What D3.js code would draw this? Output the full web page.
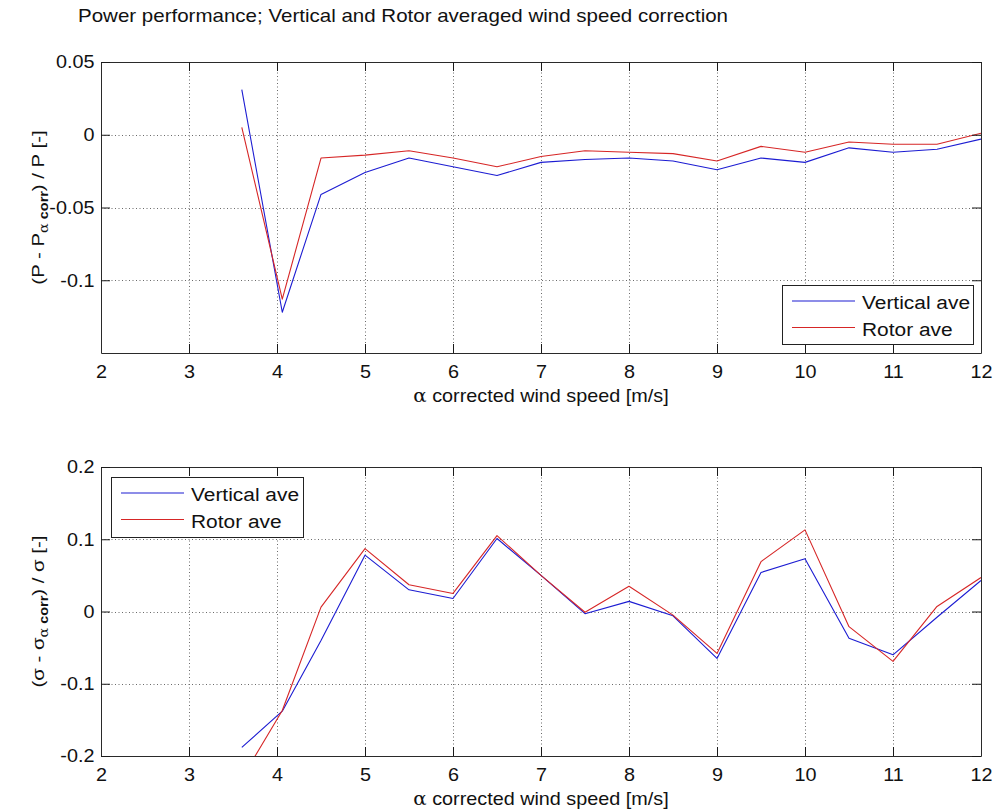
<!DOCTYPE html>
<html>
<head>
<meta charset="utf-8">
<script src="https://cdn.jsdelivr.net/npm/d3@7"></script>
<style>
  html, body { margin: 0; padding: 0; background: #fff; }
  svg { display: block; font-family: "Liberation Sans", Arial, sans-serif; }
</style>
</head>
<body>
<svg id="chart" width="994" height="811"></svg>
<script>
// ---- Data ----
const titleText = "Power performance; Vertical and Rotor averaged wind speed correction";
const xTicks = [2, 3, 4, 5, 6, 7, 8, 9, 10, 11, 12];
const windSpeed = [3.6, 4.06, 4.5, 5, 5.5, 6, 6.5, 7, 7.5, 8, 8.5, 9, 9.5, 10, 10.5, 11, 11.5, 12];

const powerVertical = [0.031, -0.122, -0.041, -0.026, -0.016, -0.022, -0.028, -0.019, -0.017, -0.016, -0.018, -0.024, -0.016, -0.019, -0.009, -0.012, -0.010, -0.003];
const powerRotor    = [0.005, -0.113, -0.016, -0.014, -0.011, -0.016, -0.022, -0.015, -0.011, -0.012, -0.013, -0.018, -0.008, -0.012, -0.005, -0.0065, -0.0065, 0.001];
const powerYTicks = [0.05, 0, -0.05, -0.1];

const sigmaVertical = [-0.188, -0.138, -0.040, 0.078, 0.030, 0.018, 0.101, 0.050, -0.003, 0.014, -0.006, -0.065, 0.054, 0.073, -0.037, -0.060, -0.008, 0.043];
const sigmaRotor    = [-0.231, -0.137, 0.006, 0.087, 0.037, 0.025, 0.105, 0.050, -0.001, 0.035, -0.005, -0.058, 0.069, 0.113, -0.021, -0.069, 0.007, 0.047];
const sigmaYTicks = [0.2, 0.1, 0, -0.1, -0.2];

const seriesNames = ["Vertical ave", "Rotor ave"];
const seriesColors = ["#1c1cd2", "#d62626"];

// ---- Layout ----
const svg = d3.select("#chart");
const X0 = 101, X1 = 981;
const FS = 18, SX = 1.1, TICK = 9;

svg.append("text")
  .attr("transform", `translate(78,22) scale(1.14,1)`)
  .attr("font-size", 20 * 0.9)
  .attr("fill", "#111")
  .text(titleText);

function panel(opts) {
  const { top, bottom, yDomain, yTicks, yData, legendPos, sym, idx } = opts;
  const g = svg.append("g");
  const x = d3.scaleLinear().domain([2, 12]).range([X0, X1]);
  const y = d3.scaleLinear().domain(yDomain).range([bottom, top]);

  // grid
  const gridG = g.append("g").attr("stroke", "#6a6a6a").attr("stroke-width", 1)
    .attr("stroke-dasharray", "1,2.5");
  gridG.selectAll("line.gx").data(xTicks.filter(t => t > 2 && t < 12)).join("line")
    .attr("x1", d => Math.round(x(d)) + 0.5).attr("x2", d => Math.round(x(d)) + 0.5)
    .attr("y1", top).attr("y2", bottom);
  gridG.selectAll("line.gy").data(yTicks.filter(t => t > yDomain[0] && t < yDomain[1])).join("line")
    .attr("y1", d => Math.round(y(d)) + 0.5).attr("y2", d => Math.round(y(d)) + 0.5)
    .attr("x1", X0).attr("x2", X1);

  // clip
  const clipId = "clip" + idx;
  svg.append("clipPath").attr("id", clipId).append("rect")
    .attr("x", X0).attr("y", top).attr("width", X1 - X0).attr("height", bottom - top);

  const line = d3.line().x((d, i) => x(windSpeed[i])).y(d => y(d));
  yData.forEach((arr, k) => {
    g.append("path").datum(arr)
      .attr("clip-path", `url(#${clipId})`)
      .attr("fill", "none").attr("stroke", seriesColors[k]).attr("stroke-width", 1.1)
      .attr("stroke-linejoin", "round")
      .attr("d", line);
  });

  // axes
  const fmt = d => String(d);
  const axB = g.append("g").attr("transform", `translate(0,${bottom})`)
    .call(d3.axisBottom(x).tickValues(xTicks).tickFormat(fmt).tickSizeInner(-TICK).tickSizeOuter(0).tickPadding(12));
  const axT = g.append("g").attr("transform", `translate(0,${top})`)
    .call(d3.axisTop(x).tickValues(xTicks).tickFormat("").tickSizeInner(-TICK).tickSizeOuter(0));
  const axL = g.append("g").attr("transform", `translate(${X0},0)`)
    .call(d3.axisLeft(y).tickValues(yTicks).tickFormat(fmt).tickSizeInner(-TICK).tickSizeOuter(0).tickPadding(6));
  const axR = g.append("g").attr("transform", `translate(${X1},0)`)
    .call(d3.axisRight(y).tickValues(yTicks).tickFormat("").tickSizeInner(-TICK).tickSizeOuter(0));
  [axB, axT, axL, axR].forEach(a => {
    a.select(".domain").attr("stroke", "#2a2a2a");
    a.selectAll(".tick line").attr("stroke", "#1a1a1a");
    a.selectAll("text").attr("font-size", FS).attr("fill", "#111")
      .attr("font-family", "Liberation Sans, Arial, sans-serif");
  });
  axB.selectAll("text").attr("transform", `scale(${SX},1)`);
  axL.selectAll("text").attr("transform", `scale(${SX},1)`);

  // x label
  const xl = svg.append("text")
    .attr("transform", `translate(541,${bottom + 49}) scale(${SX},1)`)
    .attr("text-anchor", "middle").attr("font-size", FS).attr("fill", "#111");
  xl.append("tspan").attr("font-family", "DejaVu Serif, serif").attr("font-size", FS).text("α");
  xl.append("tspan").text(" corrected wind speed [m/s]");

  // y label
  const cy = (top + bottom) / 2 + opts.labelOffset;
  const yl = svg.append("text")
    .attr("transform", `translate(44,${cy}) rotate(-90) scale(1.2,1)`)
    .attr("text-anchor", "middle").attr("font-size", 17).attr("fill", "#111");
  yl.append("tspan").text(`(${sym} - ${sym}`);
  yl.append("tspan").attr("dy", 4).attr("font-size", 12).attr("font-family", "DejaVu Serif, serif").text("α");
  yl.append("tspan").attr("font-size", 12).attr("font-weight", "bold").text(" corr");
  yl.append("tspan").attr("dy", -4).text(`) / ${sym} [-]`);

  // legend
  const lg = svg.append("g").attr("transform", `translate(${legendPos[0]},${legendPos[1]})`);
  lg.append("rect").attr("x", 0.5).attr("y", 0.5).attr("width", legendPos[2]).attr("height", legendPos[3])
    .attr("fill", "#fff").attr("stroke", "#222").attr("stroke-width", 1);
  seriesNames.forEach((n, k) => {
    const ly = 16 + k * 26.5;
    lg.append("line").attr("x1", 10).attr("x2", 73).attr("y1", ly).attr("y2", ly)
      .attr("stroke", seriesColors[k]).attr("stroke-width", 1.1);
    lg.append("text").attr("transform", `translate(80,${ly + 8}) scale(${SX},1)`)
      .attr("font-size", 19).attr("fill", "#111").text(n);
  });
}

panel({ idx: 1, top: 62, bottom: 353, yDomain: [-0.15, 0.05], yTicks: powerYTicks,
  yData: [powerVertical, powerRotor], legendPos: [782, 285, 191, 59], sym: "P", labelOffset: 0 });
panel({ idx: 2, top: 467, bottom: 756, yDomain: [-0.2, 0.2], yTicks: sigmaYTicks,
  yData: [sigmaVertical, sigmaRotor], legendPos: [111, 477, 192, 60], sym: "σ", labelOffset: 0 });
</script>
</body>
</html>
